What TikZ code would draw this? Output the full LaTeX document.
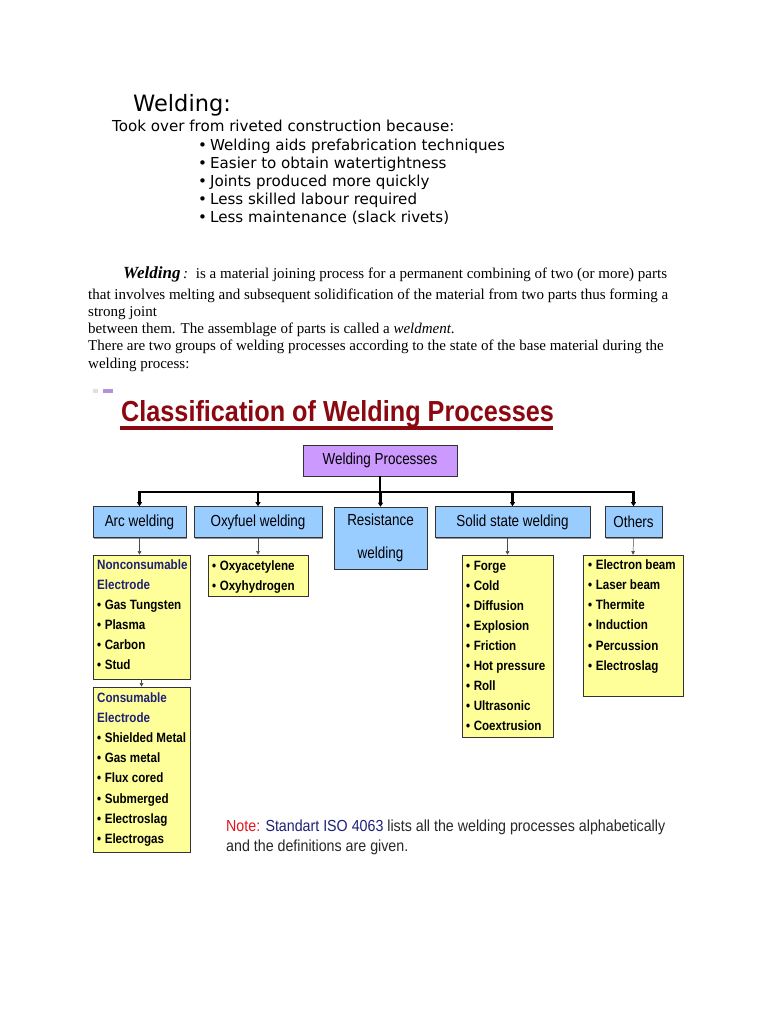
\documentclass[tikz,border=0pt]{standalone}
\usepackage{fontspec}
\setmainfont{Liberation Serif}
\newfontfamily\verd{DejaVu Sans}
\newfontfamily\narrow[FakeStretch=0.84]{Liberation Sans}
\newfontfamily\itemfont[FakeStretch=0.86]{Liberation Sans}
\newfontfamily\notefont[FakeStretch=0.89]{Liberation Sans}
\newfontfamily\titlefont[FakeStretch=0.87]{Liberation Sans}
\usetikzlibrary{arrows.meta,shadows}
\definecolor{wpviolet}{RGB}{204,153,255}
\definecolor{boxblue}{RGB}{153,204,255}
\definecolor{boxyellow}{RGB}{255,255,153}
\definecolor{titlered}{RGB}{140,8,16}
\definecolor{navy}{RGB}{32,32,120}
\definecolor{notered}{RGB}{230,20,30}
\definecolor{notegray}{RGB}{40,40,40}
\tikzset{
  topfont/.style={font=\verd\fontsize{15.1}{17}\selectfont, anchor=base west, inner sep=0},
  para/.style={font=\fontsize{15}{17}\selectfont, anchor=base west, inner sep=0},
  procbox/.style={draw=black!80, line width=0.6pt, inner sep=0, align=center,
    font=\narrow\fontsize{16}{18}\selectfont,
    drop shadow={shadow xshift=1.2pt, shadow yshift=-1.2pt, opacity=0.6, fill=black!70}},
  listbox/.style={draw=black!80, line width=0.6pt, fill=boxyellow, inner sep=0,
    drop shadow={shadow xshift=1.2pt, shadow yshift=-1.2pt, opacity=0.6, fill=black!70}},
  item/.style={font=\itemfont\bfseries\fontsize{13.5}{15}\selectfont, anchor=base west, inner sep=0},
  trunk/.style={line width=2.2pt, black},
  drop/.style={line width=2.2pt, black, -{Triangle[length=4pt,width=5pt]}},
  thinarrow/.style={line width=0.5pt, black!70, -{Triangle[length=3.5pt,width=3.5pt]}},
}
\begin{document}
\begin{tikzpicture}[x=1pt,y=-1pt]
\useasboundingbox[fill=white] (0,0) rectangle (768,1024);

% ---- top text ----
\node[topfont, font=\verd\fontsize{22.5}{24}\selectfont] (t0) at (133,112) {Welding:};
\node[topfont] (t1) at (112,132) {Took over from riveted construction because:};
\foreach \s [count=\i] in {Welding aids prefabrication techniques,
  Easier to obtain watertightness, Joints produced more quickly,
  Less skilled labour required, Less maintenance (slack rivets)}
  \node[topfont] (b\i) at (198,132+18.1*\i) {•\hspace{3pt}\s};

% ---- paragraph ----
\node[para] (p1) at (123,278) {{\fontsize{17}{18}\selectfont\bfseries\itshape Welding}\textit{\,:}\hspace{8pt}is a material joining process for a permanent combining of two (or more) parts};
\node[para] (p2) at (88,299) {that involves melting and subsequent solidification of the material from two parts thus forming a};
\node[para] (p3) at (88,316) {strong joint};
\node[para] (p4) at (88,333) {between them. The assemblage of parts is called a \textit{weldment}.};
\node[para] (p5) at (88,350) {There are two groups of welding processes according to the state of the base material during the};
\node[para] (p6) at (88,368) {welding process:};

% ---- title ----
\fill[black!12] (93,389) rectangle (98,393);
\fill[wpviolet!70!gray] (103,389) rectangle (113,393);
\node[anchor=base west, inner sep=0, text=titlered,
  font=\titlefont\bfseries\fontsize{29}{30}\selectfont] (title) at (121,421) {Classification of Welding Processes};
\fill[titlered] (120,426) rectangle (553,430);

% ---- process boxes ----
\node[procbox, fill=wpviolet, minimum width=154, minimum height=31] (wp) at (380,460.5) {Welding Processes};
\node[procbox, fill=boxblue, minimum width=93, minimum height=31] (arc) at (139.5,522) {Arc welding};
\node[procbox, fill=boxblue, minimum width=128, minimum height=31] (oxy) at (258,522) {Oxyfuel welding};
\node[procbox, fill=boxblue, minimum width=93, minimum height=62, font=\narrow\fontsize{16}{33}\selectfont] (res) at (380.5,538) {\raisebox{-3pt}{Resistance}\\\raisebox{-3pt}{welding}};
\node[procbox, fill=boxblue, minimum width=155, minimum height=31] (sol) at (512.5,522) {Solid state welding};
\node[procbox, fill=boxblue, minimum width=57, minimum height=31] (oth) at (633.5,522) {Others};

\coordinate (bus) at (380,492);
\draw[trunk] (wp.south) -- (wp.south |- bus);
\draw[trunk] ([xshift=-1.1pt]arc.north |- bus) -- ([xshift=1.1pt]oth.north |- bus);
\foreach \n in {arc,oxy,res,sol,oth}
  \draw[drop] (\n.north |- bus) -- (\n.north);

% ---- lists ----
\node[listbox, minimum width=97, minimum height=124] (nc) at (141.5,617) {};
\node[listbox, minimum width=97, minimum height=165] (cons) at (141.5,769.5) {};
\node[listbox, minimum width=100, minimum height=41] (oxl) at (258,575.5) {};
\node[listbox, minimum width=91, minimum height=182] (soll) at (507.5,646) {};
\node[listbox, minimum width=100, minimum height=141] (othl) at (633,625.5) {};

\draw[thinarrow] (arc.south) -- (arc.south |- nc.north);
\draw[thinarrow] (nc.south) -- (cons.north);
\draw[thinarrow] (oxy.south) -- (oxl.north);
\draw[thinarrow] (sol.south -| soll.north) -- (soll.north);
\draw[thinarrow] (oth.south) -- (othl.north);

\node[item, text=navy] (nc1) at (97,569) {Nonconsumable};
\node[item, text=navy] (nc2) at (97,589.2) {Electrode};
\foreach \s [count=\i] in {Gas Tungsten, Plasma, Carbon, Stud}
  \node[item] (nci\i) at (97,589.2+20.1*\i) {•\hspace{3.5pt}\s};

\node[item, text=navy] (cs1) at (97,702) {Consumable};
\node[item, text=navy] (cs2) at (97,722.2) {Electrode};
\foreach \s [count=\i] in {Shielded Metal, Gas metal, Flux cored, Submerged, Electroslag, Electrogas}
  \node[item] (csi\i) at (97,722.2+20.2*\i) {•\hspace{3.5pt}\s};

\foreach \s [count=\i] in {Oxyacetylene, Oxyhydrogen}
  \node[item] (ox\i) at (212,550+20*\i) {•\hspace{3.5pt}\s};

\foreach \s [count=\i] in {Forge, Cold, Diffusion, Explosion, Friction, Hot pressure, Roll, Ultrasonic, Coextrusion}
  \node[item] (so\i) at (466,550+20.1*\i) {•\hspace{3.5pt}\s};

\foreach \s [count=\i] in {Electron beam, Laser beam, Thermite, Induction, Percussion, Electroslag}
  \node[item] (ot\i) at (588,549+20.2*\i) {•\hspace{3.5pt}\s};

% ---- note ----
\node[anchor=base west, inner sep=0, font=\notefont\fontsize{16}{18}\selectfont, text=notegray] (note1) at (226,831)
  {\textcolor{notered}{Note:} \textcolor{navy}{Standart ISO 4063} lists all the welding processes alphabetically};
\node[anchor=base west, inner sep=0, font=\notefont\fontsize{16}{18}\selectfont, text=notegray] (note2) at (226,851)
  {and the definitions are given.};
\end{tikzpicture}
\end{document}
